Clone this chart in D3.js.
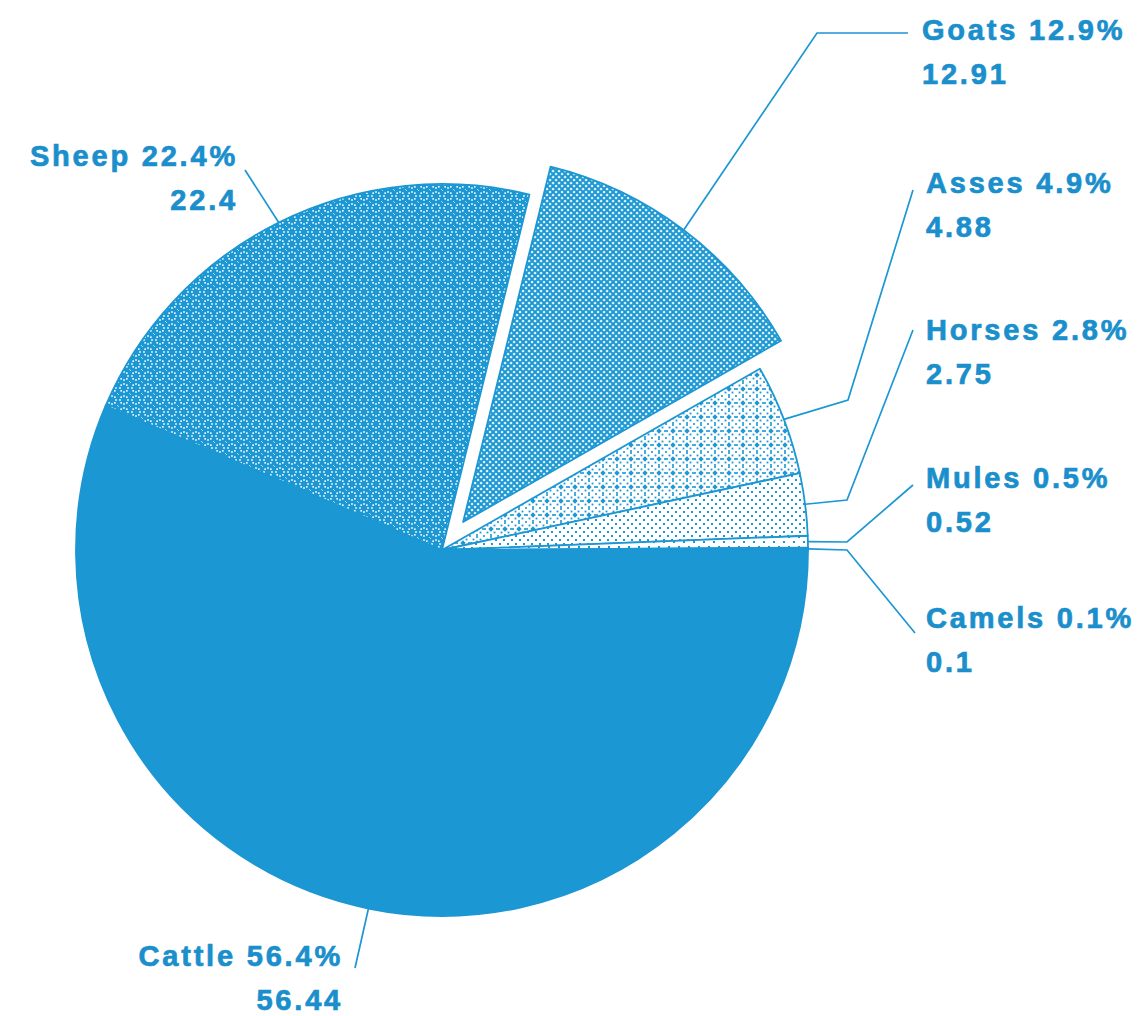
<!DOCTYPE html>
<html>
<head>
<meta charset="utf-8">
<script src="https://cdn.jsdelivr.net/npm/d3@7"></script>
<style>
  html, body { margin: 0; padding: 0; background: #ffffff; }
  svg { display: block; }
  .lbl { font-family: "Liberation Sans", Arial, Helvetica, sans-serif; font-weight: bold; font-size: 29px; letter-spacing: 2.8px; }
</style>
</head>
<body>
<script>
// ---- data ----
const categories   = ["Cattle", "Sheep", "Goats", "Asses", "Horses", "Mules", "Camels"];
const values       = [56.44, 22.4, 12.91, 4.88, 2.75, 0.52, 0.1];
const percentTexts = ["56.4%", "22.4%", "12.9%", "4.9%", "2.8%", "0.5%", "0.1%"];
const valueTexts   = ["56.44", "22.4", "12.91", "4.88", "2.75", "0.52", "0.1"];
const exploded     = ["Goats"];

// ---- layout / style ----
const W = 1146, H = 1016;
const cx = 442, cy = 550, R = 366, explodeDist = 35;
const BLUE = "#1b97d3", TEXT = "#1a8fcc";
const patternIds = ["solid", "p-sheep", "p-goats", "p-asses", "p-horses", "p-mules", "solid"];
// label anchor (text x, first baseline y, anchor) and leader bend points
const labelLayout = {
  Cattle: { x: 343, y: 966, anchor: "end",   bends: [[355, 968]] },
  Sheep:  { x: 238, y: 166, anchor: "end",   bends: [[245, 170]] },
  Goats:  { x: 922, y: 40,  anchor: "start", bends: [[817, 33], [908, 33]] },
  Asses:  { x: 926, y: 193, anchor: "start", bends: [[848, 400], [913, 190]] },
  Horses: { x: 926, y: 340, anchor: "start", bends: [[847, 500], [913, 330]] },
  Mules:  { x: 926, y: 488, anchor: "start", bends: [[847, 542], [913, 485]] },
  Camels: { x: 926, y: 628, anchor: "start", bends: [[847, 550], [915, 633]] }
};
const lineGap = 44;

const svg = d3.select("body").append("svg").attr("width", W).attr("height", H);
const defs = svg.append("defs");

// sheep: blue with white dot rings
const ps = defs.append("pattern").attr("id", "p-sheep").attr("width", 12).attr("height", 12).attr("patternUnits", "userSpaceOnUse");
ps.append("rect").attr("width", 12).attr("height", 12).attr("fill", BLUE);
d3.range(8).forEach(i => {
  const a = i * Math.PI / 4;
  ps.append("rect").attr("x", 6 + 4 * Math.cos(a) - 0.8).attr("y", 6 + 4 * Math.sin(a) - 0.8).attr("width", 1.6).attr("height", 1.6).attr("fill", "#fff");
});
ps.append("rect").attr("x", -0.8).attr("y", -0.8).attr("width", 1.6).attr("height", 1.6).attr("fill", "#fff");
ps.append("rect").attr("x", 11.2).attr("y", 11.2).attr("width", 1.6).attr("height", 1.6).attr("fill", "#fff");

// goats: dense crosshatch
const pg = defs.append("pattern").attr("id", "p-goats").attr("width", 6).attr("height", 6).attr("patternUnits", "userSpaceOnUse");
pg.append("rect").attr("width", 6).attr("height", 6).attr("fill", "#fff");
pg.append("path").attr("d", "M-1,-1L7,7M7,-1L-1,7").attr("stroke", BLUE).attr("stroke-width", 2.1);

// asses: diamond lattice of dots
const pa = defs.append("pattern").attr("id", "p-asses").attr("width", 14).attr("height", 14).attr("patternUnits", "userSpaceOnUse");
pa.append("rect").attr("width", 14).attr("height", 14).attr("fill", "#fff");
pa.append("path").attr("d", "M7,4.3L9.7,7L7,9.7L4.3,7Z").attr("fill", BLUE);
[[7,1],[13,7],[7,13],[1,7],[0,0],[14,0],[0,14],[14,14],[3.5,3.5],[10.5,3.5],[3.5,10.5],[10.5,10.5]].forEach(([x, y]) =>
  pa.append("rect").attr("x", x - 0.9).attr("y", y - 0.9).attr("width", 1.8).attr("height", 1.8).attr("fill", BLUE));

// horses: sparse dots
const ph = defs.append("pattern").attr("id", "p-horses").attr("width", 8).attr("height", 8).attr("patternUnits", "userSpaceOnUse");
ph.append("rect").attr("width", 8).attr("height", 8).attr("fill", "#fff");
[[2,2],[6,6]].forEach(([x, y]) =>
  ph.append("rect").attr("x", x - 1).attr("y", y - 1).attr("width", 2).attr("height", 2).attr("fill", BLUE));

// mules: sparser dots
const pm = defs.append("pattern").attr("id", "p-mules").attr("width", 10).attr("height", 10).attr("patternUnits", "userSpaceOnUse");
pm.append("rect").attr("width", 10).attr("height", 10).attr("fill", "#fff");
[[2,2],[7,7]].forEach(([x, y]) =>
  pm.append("rect").attr("x", x - 1).attr("y", y - 1).attr("width", 2).attr("height", 2).attr("fill", BLUE));

// ---- pie ----
const data = categories.map((c, i) => ({ name: c, value: values[i], pct: percentTexts[i], val: valueTexts[i], pat: patternIds[i] }));
const pie = d3.pie().value(d => d.value).sort(null).startAngle(Math.PI / 2).endAngle(Math.PI / 2 + 2 * Math.PI);
const arcs = pie(data);
const arc = d3.arc().innerRadius(0).outerRadius(R);

const g = svg.append("g").attr("transform", `translate(${cx},${cy})`);

function offsetOf(a) {
  if (!exploded.includes(a.data.name)) return [0, 0];
  const m = (a.startAngle + a.endAngle) / 2;
  return [explodeDist * Math.sin(m), -explodeDist * Math.cos(m)];
}

g.selectAll("path.slice").data(arcs).join("path")
  .attr("class", "slice")
  .attr("d", arc)
  .attr("transform", d => { const o = offsetOf(d); return `translate(${o[0]},${o[1]})`; })
  .attr("fill", d => d.data.pat === "solid" ? BLUE : `url(#${d.data.pat})`)
  .attr("stroke", BLUE)
  .attr("stroke-width", 1.8)
  .attr("stroke-linejoin", "round");

// ---- leaders & labels ----
const line = d3.line();
arcs.forEach(a => {
  const L = labelLayout[a.data.name];
  const m = (a.startAngle + a.endAngle) / 2;
  const o = offsetOf(a);
  const start = [cx + o[0] + R * Math.sin(m), cy + o[1] - R * Math.cos(m)];
  svg.append("path")
    .attr("d", line([start, ...L.bends]))
    .attr("fill", "none")
    .attr("stroke", BLUE)
    .attr("stroke-width", 1.7);
  const t = svg.append("text").attr("class", "lbl").attr("fill", TEXT)
    .attr("stroke", TEXT).attr("stroke-width", 0.7).attr("text-anchor", L.anchor);
  t.append("tspan").attr("x", L.x).attr("y", L.y).text(a.data.name + " " + a.data.pct);
  t.append("tspan").attr("x", L.x).attr("y", L.y + lineGap).text(a.data.val);
});
</script>
</body>
</html>
